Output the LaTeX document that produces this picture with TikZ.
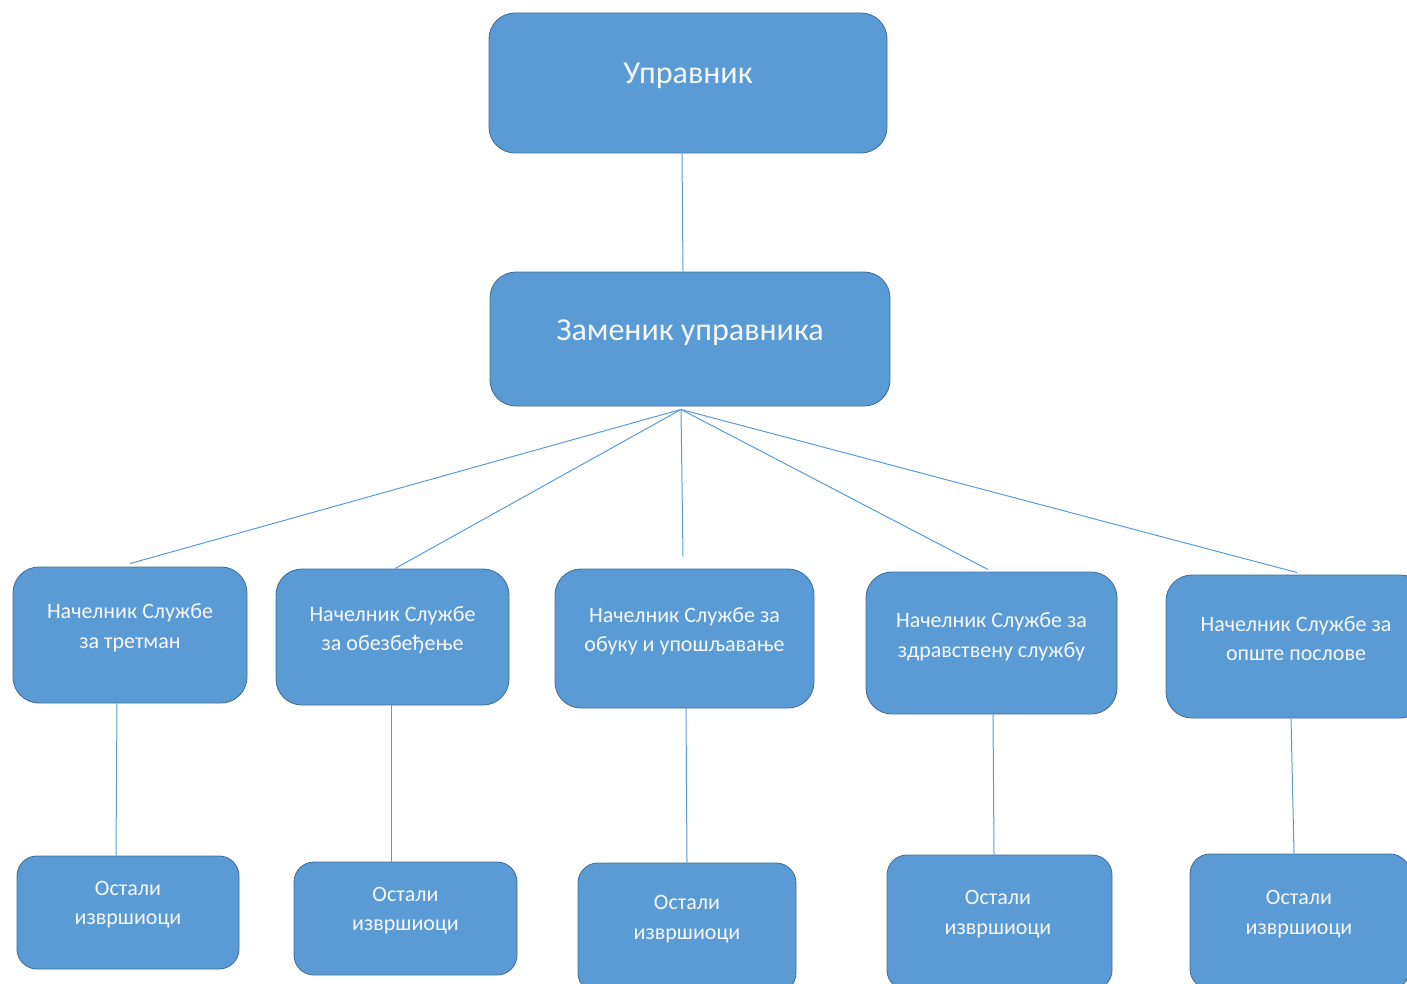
\documentclass[tikz,border=0pt]{standalone}
\usepackage{fontspec}
\setmainfont{Carlito}
\definecolor{boxfill}{HTML}{5B9BD5}
\definecolor{boxline}{HTML}{41719C}
\definecolor{conn}{HTML}{5B9BD5}
\definecolor{txt}{HTML}{F4F7FB}
\begin{document}
\begin{tikzpicture}[x=1pt,y=-1pt,
  boxbase/.style={draw=boxline,fill=boxfill,line width=0.9pt,inner sep=0pt},
  topbox/.style={boxbase,rounded corners=26pt,minimum width=398pt,minimum height=140pt},
  midbox/.style={boxbase,rounded corners=26pt,minimum height=136pt},
  lowbox/.style={boxbase,rounded corners=20pt,minimum height=113pt},
  bigtxt/.style={text=txt,font=\fontsize{32}{38}\selectfont,align=center},
  smalltxt/.style={text=txt,font=\fontsize{22}{29.5}\selectfont,align=center},
  conline/.style={draw=conn,line width=1pt}]
\useasboundingbox (0,0) rectangle (1407,984);
\clip (0,0) rectangle (1407,984);
% top levels
\node[topbox] (a) at (688,83) {};
\node[bigtxt] (at) at ([yshift=7pt]a.center) {Управник};
\node[topbox,minimum width=400pt,minimum height=134pt] (b) at (690,339) {};
\node[bigtxt] (bt) at ([yshift=6pt]b.center) {Заменик управника};
% heads
\node[midbox,minimum width=234pt,minimum height=136pt] (c1) at (130,635) {};
\node[midbox,minimum width=233pt,minimum height=136pt] (c2) at (392.5,637) {};
\node[midbox,minimum width=259pt,minimum height=139pt] (c3) at (684.5,638.5) {};
\node[midbox,minimum width=251pt,minimum height=142pt] (c4) at (991.5,643) {};
\node[midbox,minimum width=260pt,minimum height=143pt] (c5) at (1296,646.5) {};
\node[smalltxt] (c1t) at ([yshift=7pt]c1.center) {Начелник Службе\\за третман};
\node[smalltxt] (c2t) at ([yshift=7pt]c2.center) {Начелник Службе\\за обезбеђење};
\node[smalltxt] (c3t) at ([yshift=7pt]c3.center) {Начелник Службе за\\обуку и упошљавање};
\node[smalltxt] (c4t) at ([yshift=6pt]c4.center) {Начелник Службе за\\здравствену службу};
\node[smalltxt] (c5t) at ([yshift=8pt]c5.center) {Начелник Службе за\\опште послове};
% others
\node[lowbox,minimum width=222pt] (d1) at (128,912.5) {};
\node[lowbox,minimum width=223pt] (d2) at (405.5,918.5) {};
\node[lowbox,minimum width=218pt,minimum height=130pt] (d3) at (687,928) {};
\node[lowbox,minimum width=225pt,minimum height=135pt] (d4) at (999.5,922.5) {};
\node[lowbox,minimum width=220pt,minimum height=135pt] (d5) at (1300,921.5) {};
\node[smalltxt] (d1t) at ([yshift=8pt]d1.center) {Остали\\извршиоци};
\node[smalltxt] (d2t) at ([yshift=8pt]d2.center) {Остали\\извршиоци};
\node[smalltxt] (d3t) at (687,919) {Остали\\извршиоци};
\node[smalltxt] (d4t) at (998,914) {Остали\\извршиоци};
\node[smalltxt] (d5t) at (1299,914) {Остали\\извршиоци};
% connectors
\draw[conline] ([xshift=-6pt]a.south) -- ([xshift=-7pt]b.north);
\coordinate (hub) at ([xshift=-9pt,yshift=-3pt]b.south);
\draw[conline] (hub) -- ([yshift=3pt]c1.north);
\draw[conline] (hub) -- ([xshift=2.5pt]c2.north);
\draw[conline] (hub) -- ([xshift=-1.5pt,yshift=12pt]c3.north);
\draw[conline] (hub) -- ([xshift=-3.5pt,yshift=2pt]c4.north);
\draw[conline] (hub) -- ([xshift=1pt,yshift=2pt]c5.north);
\draw[conline] ([xshift=-13pt]c1.south) -- ([xshift=-12pt]d1.north);
\draw[conline] ([xshift=-1.5pt]c2.south) -- ([xshift=-14.5pt]d2.north);
\draw[conline] ([xshift=1.5pt]c3.south) -- (d3.north);
\draw[conline] ([xshift=1.5pt]c4.south) -- ([xshift=-5.5pt]d4.north);
\draw[conline] ([xshift=-5pt]c5.south) -- ([xshift=-6pt]d5.north);
\end{tikzpicture}
\end{document}
